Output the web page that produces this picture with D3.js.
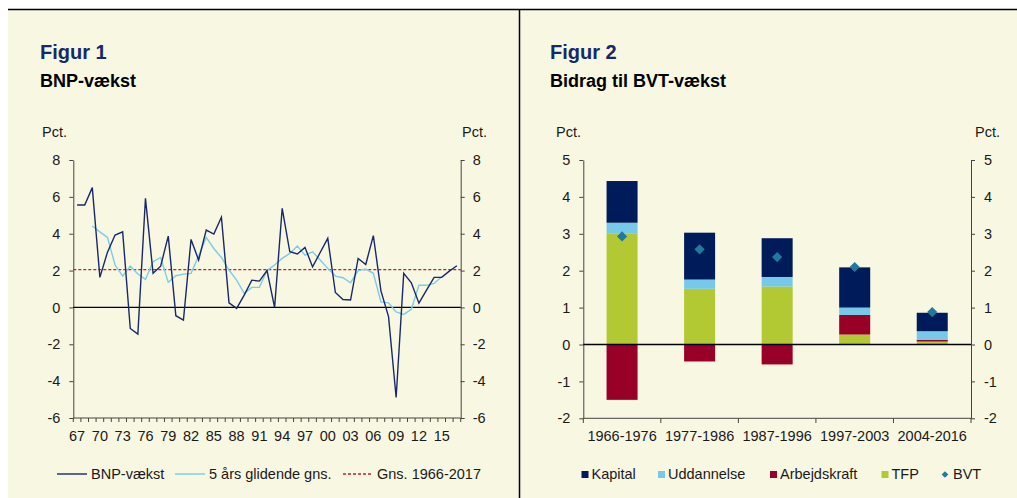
<!DOCTYPE html>
<html>
<head>
<meta charset="utf-8">
<script src="https://cdn.jsdelivr.net/npm/d3@7"></script>
<style>
  body { margin: 0; background: #fff; }
  svg { display: block; font-family: "Liberation Sans", Arial, sans-serif; }
</style>
</head>
<body>
<div id="chart"></div>
<script>
// Figur 1 data
var years = d3.range(1967, 2018);
var bnp = [5.56, 5.56, 6.5, 1.63, 3.0, 3.93, 4.1, -1.14, -1.45, 5.92,
           1.85, 2.24, 3.87, -0.45, -0.69, 3.69, 2.57, 4.2, 3.98, 4.89,
           0.25, -0.05, 0.67, 1.48, 1.43, 2.0, 0.0, 5.38, 3.02, 2.9,
           3.26, 2.2, 2.98, 3.75, 0.81, 0.43, 0.4, 2.66, 2.33, 3.9,
           0.9, -0.5, -4.89, 1.85, 1.34, 0.23, 0.94, 1.63, 1.63, 1.97, 2.26];
var glidende = [null, null, 4.42, 4.1, 3.8, 2.3, 1.7, 2.24, 1.81, 1.52,
           2.48, 2.71, 1.36, 1.72, 1.81, 1.85, 2.79, 3.8, 3.2, 2.71,
           2.03, 1.48, 0.76, 1.09, 1.09, 2.0, 2.3, 2.66, 2.93, 3.33,
           2.84, 3.02, 2.57, 2.12, 1.7, 1.61, 1.34, 2.0, 2.08, 1.85,
           0.3, 0.25, -0.24, -0.38, -0.1, 1.2, 1.2, 1.3, 1.66, null, null];
var gns = 2.05;
var yTicks1 = [-6, -4, -2, 0, 2, 4, 6, 8];

// Figur 2 data
var periods = ["1966-1976", "1977-1986", "1987-1996", "1997-2003", "2004-2016"];
var kapital = [1.13, 1.27, 1.05, 1.09, 0.5];
var uddannelse = [0.3, 0.25, 0.26, 0.2, 0.23];
var arbejdskraft = [-1.5, -0.46, -0.54, 0.53, 0.05];
var tfp = [3.0, 1.51, 1.57, 0.27, 0.08];
var bvt = [2.93, 2.58, 2.37, 2.1, 0.88];
var yTicks2 = [-2, -1, 0, 1, 2, 3, 4, 5];

var bg = "#f8f7e2";
var navy = "#14296b";
var txt = "#1a1a1a";
var fs = 14.5;

var svg = d3.select("#chart").append("svg")
    .attr("width", 1017)
    .attr("height", 498);

// panel frame
svg.append("rect").attr("x", 8).attr("y", 10).attr("width", 1009).attr("height", 488).attr("fill", bg);
svg.append("line").attr("x1", 8).attr("x2", 1017).attr("y1", 9.5).attr("y2", 9.5).attr("stroke", "#000").attr("stroke-width", 1.5);
svg.append("line").attr("x1", 519.5).attr("x2", 519.5).attr("y1", 9).attr("y2", 498).attr("stroke", "#000").attr("stroke-width", 1.5);

var titles = function (x, fig, sub) {
    svg.append("text").attr("x", x).attr("y", 59).text(fig)
        .attr("font-size", 20).attr("font-weight", "bold").attr("fill", navy);
    svg.append("text").attr("x", x).attr("y", 87).text(sub)
        .attr("font-size", 18).attr("font-weight", "bold").attr("fill", "#000");
};
titles(40, "Figur 1", "BNP-vækst");
titles(550, "Figur 2", "Bidrag til BVT-vækst");

var fmt = function (d) { return String(d); };   // plain hyphen for minus

var styleAxis = function (g) {
    g.select(".domain").attr("stroke", "#444");
    g.selectAll(".tick line").attr("stroke", "#444");
    g.selectAll(".tick text").attr("font-size", fs).attr("fill", txt)
        .attr("font-family", "Liberation Sans, Arial, sans-serif");
};

// ---------- Figur 1 ----------
var x1 = d3.scaleBand().domain(years).range([73.3, 460.7]);
var y1 = d3.scaleLinear().domain([-6, 8]).range([418, 160]);

svg.append("g").attr("transform", "translate(73.3,0)")
    .call(d3.axisLeft(y1).tickValues(yTicks1).tickFormat(fmt).tickSize(4).tickPadding(9).tickSizeOuter(0))
    .call(styleAxis);
svg.append("g").attr("transform", "translate(460.7,0)")
    .call(d3.axisRight(y1).tickValues(yTicks1).tickFormat(fmt).tickSize(4).tickPadding(8).tickSizeOuter(0))
    .call(styleAxis);

// x axis with ticks between years
var xAxis1 = svg.append("g");
xAxis1.append("line").attr("x1", x1.range()[0]).attr("x2", x1.range()[1])
    .attr("y1", 418).attr("y2", 418).attr("stroke", "#444");
xAxis1.selectAll(".tk").data(years.concat([2018])).enter().append("line")
    .attr("x1", function (d) { return d <= 2017 ? x1(d) : x1.range()[1]; })
    .attr("x2", function (d) { return d <= 2017 ? x1(d) : x1.range()[1]; })
    .attr("y1", 418).attr("y2", 422).attr("stroke", "#444");
xAxis1.selectAll(".lb").data(years.filter(function (d) { return (d - 1967) % 3 === 0; }))
    .enter().append("text")
    .attr("x", function (d) { return x1(d) + x1.bandwidth() / 2; })
    .attr("y", 441).attr("text-anchor", "middle")
    .attr("font-size", fs).attr("fill", txt)
    .text(function (d) { return String(d).slice(2); });

svg.append("text").attr("x", 42).attr("y", 137).text("Pct.").attr("font-size", fs).attr("fill", txt);
svg.append("text").attr("x", 462).attr("y", 137).text("Pct.").attr("font-size", fs).attr("fill", txt);

// zero line
svg.append("line").attr("x1", 73.3).attr("x2", 460.7)
    .attr("y1", y1(0)).attr("y2", y1(0)).attr("stroke", "#000").attr("stroke-width", 1.3);

// average line
svg.append("line").attr("x1", 73.3).attr("x2", 460.7)
    .attr("y1", y1(gns)).attr("y2", y1(gns))
    .attr("stroke", "#b3243c").attr("stroke-width", 1.2).attr("stroke-dasharray", "3,2");

var cx = function (i) { return x1(years[i]) + x1.bandwidth() / 2; };
var line = d3.line()
    .defined(function (d) { return d != null; })
    .x(function (d, i) { return cx(i); })
    .y(function (d) { return y1(d); });

svg.append("path").datum(glidende).attr("d", line)
    .attr("fill", "none").attr("stroke", "#7ccbea").attr("stroke-width", 1.4);
svg.append("path").datum(bnp).attr("d", line)
    .attr("fill", "none").attr("stroke", "#18286a").attr("stroke-width", 1.4);

// legend 1
var leg1 = [
    { label: "BNP-vækst", color: "#18286a", dash: null, x: 57 },
    { label: "5 års glidende gns.", color: "#7ccbea", dash: null, x: 175 },
    { label: "Gns. 1966-2017", color: "#b3243c", dash: "3,2", x: 343 }
];
leg1.forEach(function (d) {
    svg.append("line").attr("x1", d.x).attr("x2", d.x + 30).attr("y1", 474).attr("y2", 474)
        .attr("stroke", d.color).attr("stroke-width", 1.4).attr("stroke-dasharray", d.dash);
    svg.append("text").attr("x", d.x + 34).attr("y", 479).text(d.label)
        .attr("font-size", fs).attr("fill", txt);
});

// ---------- Figur 2 ----------
var x2 = d3.scaleBand().domain(periods).range([583.3, 971]).paddingInner(0.6).paddingOuter(0.3);
var y2 = d3.scaleLinear().domain([-2, 5]).range([418.3, 160]);

svg.append("g").attr("transform", "translate(583.3,0)")
    .call(d3.axisLeft(y2).tickValues(yTicks2).tickFormat(fmt).tickSize(4).tickPadding(9).tickSizeOuter(0))
    .call(styleAxis);
svg.append("g").attr("transform", "translate(971,0)")
    .call(d3.axisRight(y2).tickValues(yTicks2).tickFormat(fmt).tickSize(4).tickPadding(9).tickSizeOuter(0))
    .call(styleAxis);

var xAxis2 = svg.append("g");
xAxis2.append("line").attr("x1", 583.3).attr("x2", 971).attr("y1", 418.3).attr("y2", 418.3).attr("stroke", "#444");
var bounds = periods.map(function (p) { return x2(p) - x2.step() * x2.paddingInner() / 2; }).concat([971]);
xAxis2.selectAll(".tk").data(bounds).enter().append("line")
    .attr("x1", function (d) { return d; }).attr("x2", function (d) { return d; })
    .attr("y1", 418.3).attr("y2", 423).attr("stroke", "#444");
xAxis2.selectAll(".lb").data(periods).enter().append("text")
    .attr("x", function (d) { return x2(d) + x2.bandwidth() / 2; })
    .attr("y", 441).attr("text-anchor", "middle")
    .attr("font-size", fs).attr("fill", txt)
    .text(function (d) { return d; });

svg.append("text").attr("x", 556).attr("y", 137).text("Pct.").attr("font-size", fs).attr("fill", txt);
svg.append("text").attr("x", 975).attr("y", 137).text("Pct.").attr("font-size", fs).attr("fill", txt);

var keys = ["TFP", "Arbejdskraft", "Uddannelse", "Kapital"];
var colors = { Kapital: "#001b59", Uddannelse: "#76c9e9", Arbejdskraft: "#990027", TFP: "#b3c933" };
var rows = periods.map(function (p, i) {
    return { period: p, Kapital: kapital[i], Uddannelse: uddannelse[i], Arbejdskraft: arbejdskraft[i], TFP: tfp[i] };
});
var series = d3.stack().keys(keys).offset(d3.stackOffsetDiverging)(rows);

svg.append("g").selectAll("g").data(series).enter().append("g")
    .attr("fill", function (s) { return colors[s.key]; })
    .selectAll("rect").data(function (s) { return s; }).enter().append("rect")
    .attr("x", function (d) { return x2(d.data.period); })
    .attr("width", x2.bandwidth())
    .attr("y", function (d) { return y2(Math.max(d[0], d[1])); })
    .attr("height", function (d) { return Math.abs(y2(d[0]) - y2(d[1])); });

svg.append("line").attr("x1", 583.3).attr("x2", 971)
    .attr("y1", y2(0)).attr("y2", y2(0)).attr("stroke", "#000").attr("stroke-width", 1.3);

var diamond = d3.symbol().type(d3.symbolSquare).size(52);
svg.append("g").selectAll("path").data(bvt).enter().append("path")
    .attr("d", diamond)
    .attr("fill", "#1f7b9c")
    .attr("transform", function (d, i) {
        return "translate(" + (x2(periods[i]) + x2.bandwidth() / 2) + "," + y2(d) + ") rotate(45)";
    });

// legend 2
var leg2 = [
    { label: "Kapital", x: 581.5 },
    { label: "Uddannelse", x: 658 },
    { label: "Arbejdskraft", x: 770 },
    { label: "TFP", x: 881.5 }
];
leg2.forEach(function (d) {
    svg.append("rect").attr("x", d.x).attr("y", 471).attr("width", 7).attr("height", 7)
        .attr("fill", colors[d.label]);
    svg.append("text").attr("x", d.x + 10).attr("y", 479).text(d.label)
        .attr("font-size", fs).attr("fill", txt);
});
svg.append("path").attr("d", d3.symbol().type(d3.symbolSquare).size(22))
    .attr("fill", "#1f7b9c").attr("transform", "translate(945,474.5) rotate(45)");
svg.append("text").attr("x", 953).attr("y", 479).text("BVT").attr("font-size", fs).attr("fill", txt);
</script>
</body>
</html>
